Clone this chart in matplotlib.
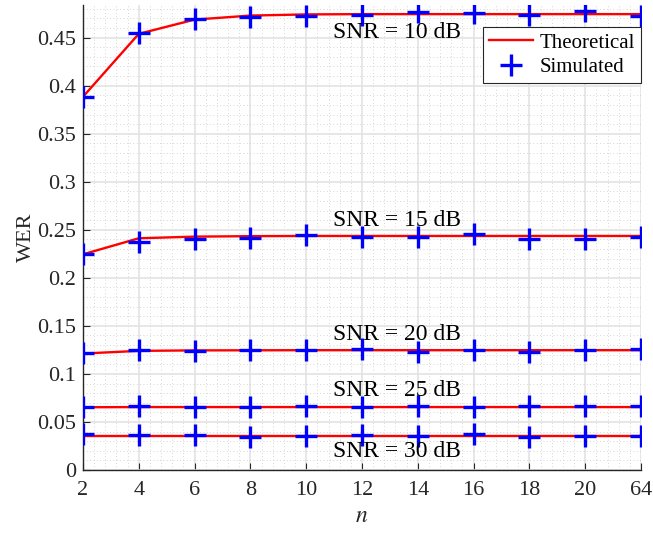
import matplotlib
matplotlib.use("Agg")
import matplotlib.pyplot as plt
import numpy as np
from matplotlib.ticker import MultipleLocator, AutoMinorLocator, FuncFormatter

plt.rcParams['font.family'] = ['Liberation Serif', 'DejaVu Serif']
plt.rcParams['mathtext.fontset'] = 'stix'

n_labels = ['2', '4', '6', '8', '10', '12', '14', '16', '18', '20', '64']
snr_labels = ['SNR = 10 dB', 'SNR = 15 dB', 'SNR = 20 dB', 'SNR = 25 dB', 'SNR = 30 dB']

# theoretical WER per SNR
theo_10 = [0.3885, 0.454, 0.4688, 0.473, 0.4742, 0.4745, 0.4745, 0.4745, 0.4745, 0.4745, 0.4745]
theo_15 = [0.2245, 0.2412, 0.2429, 0.2434, 0.2436, 0.2436, 0.2436, 0.2436, 0.2436, 0.2436, 0.2436]
theo_20 = [0.1212, 0.1240, 0.1245, 0.1246, 0.1247, 0.1247, 0.1247, 0.1247, 0.1247, 0.1247, 0.1247]
theo_25 = [0.0653, 0.0655, 0.0655, 0.0655, 0.0655, 0.0655, 0.0655, 0.0655, 0.0655, 0.0655, 0.0655]
theo_30 = [0.0356, 0.0356, 0.0356, 0.0356, 0.0356, 0.0356, 0.0356, 0.0356, 0.0356, 0.0356, 0.0356]

# simulated WER per SNR
sim_10 = [0.3885, 0.455, 0.4695, 0.4713, 0.4723, 0.4735, 0.4765, 0.4758, 0.4738, 0.4775, 0.4730]
sim_15 = [0.2245, 0.2377, 0.2407, 0.2414, 0.2450, 0.2420, 0.2429, 0.2453, 0.2407, 0.2400, 0.2426]
sim_20 = [0.1215, 0.1253, 0.1242, 0.1246, 0.1246, 0.1260, 0.1228, 0.1246, 0.1232, 0.1246, 0.1256]
sim_25 = [0.0657, 0.0668, 0.0651, 0.0657, 0.0664, 0.0657, 0.0661, 0.0657, 0.0661, 0.0661, 0.0661]
sim_30 = [0.0370, 0.0360, 0.0363, 0.0346, 0.0349, 0.0360, 0.0349, 0.0370, 0.0346, 0.0356, 0.0356]

theo_all = [theo_10, theo_15, theo_20, theo_25, theo_30]
sim_all = [sim_10, sim_15, sim_20, sim_25, sim_30]
label_y = [0.455, 0.260, 0.141, 0.083, 0.019]

x = np.arange(len(n_labels))

fig = plt.figure(figsize=(6.53, 5.35), dpi=100)
ax = fig.add_axes([83/653, 1 - 470/535, (641-83)/653, (470-5)/535])

for i in range(len(theo_all)):
    ax.plot(x, theo_all[i], color='#ff0000', lw=1.7, zorder=3,
            label='Theoretical' if i == 0 else None)
    ax.plot(x, sim_all[i], ls='none', marker='+', ms=16, mew=2.4, color='#0000ff', zorder=4,
            label='Simulated' if i == 0 else None)
    ax.text(5.63, label_y[i], snr_labels[i], fontsize=17, ha='center', va='center', zorder=5)

ax.set_xlim(0, len(n_labels) - 1)
ax.set_ylim(0, 0.484)
ax.set_xticks(x)
ax.set_xticklabels(n_labels)
ax.xaxis.set_minor_locator(AutoMinorLocator(5))
ax.yaxis.set_major_locator(MultipleLocator(0.05))
ax.yaxis.set_minor_locator(MultipleLocator(0.01))
ax.yaxis.set_major_formatter(FuncFormatter(lambda v, p: '%g' % round(v, 2)))

ax.grid(which='major', color='#e3e3e3', lw=1.2)
ax.grid(which='minor', color='#c8c8c8', lw=0.6, ls=(0, (1, 3)))
ax.set_axisbelow(True)

for s in ['top', 'right']:
    ax.spines[s].set_visible(False)
for s in ['left', 'bottom']:
    ax.spines[s].set_color('#262626')
    ax.spines[s].set_linewidth(1)
ax.tick_params(which='major', direction='in', length=5, color='#262626', labelsize=16, labelcolor='#262626')
ax.tick_params(which='minor', direction='in', length=0)
ax.tick_params(axis='x', pad=8)
ax.tick_params(axis='y', pad=5)

ax.set_xlabel('$n$', fontsize=17, color='#262626')
ax.set_ylabel('WER', fontsize=16, color='#262626', labelpad=1)

leg = ax.legend(loc='upper right', bbox_to_anchor=(1.0, 0.953), fontsize=15, frameon=True,
                fancybox=False, edgecolor='#262626', framealpha=1, borderpad=0.3,
                handlelength=2.1, handletextpad=0.3, labelspacing=0.22, borderaxespad=0)
leg.get_frame().set_linewidth(0.8)

fig.savefig('out.png', dpi=100)
